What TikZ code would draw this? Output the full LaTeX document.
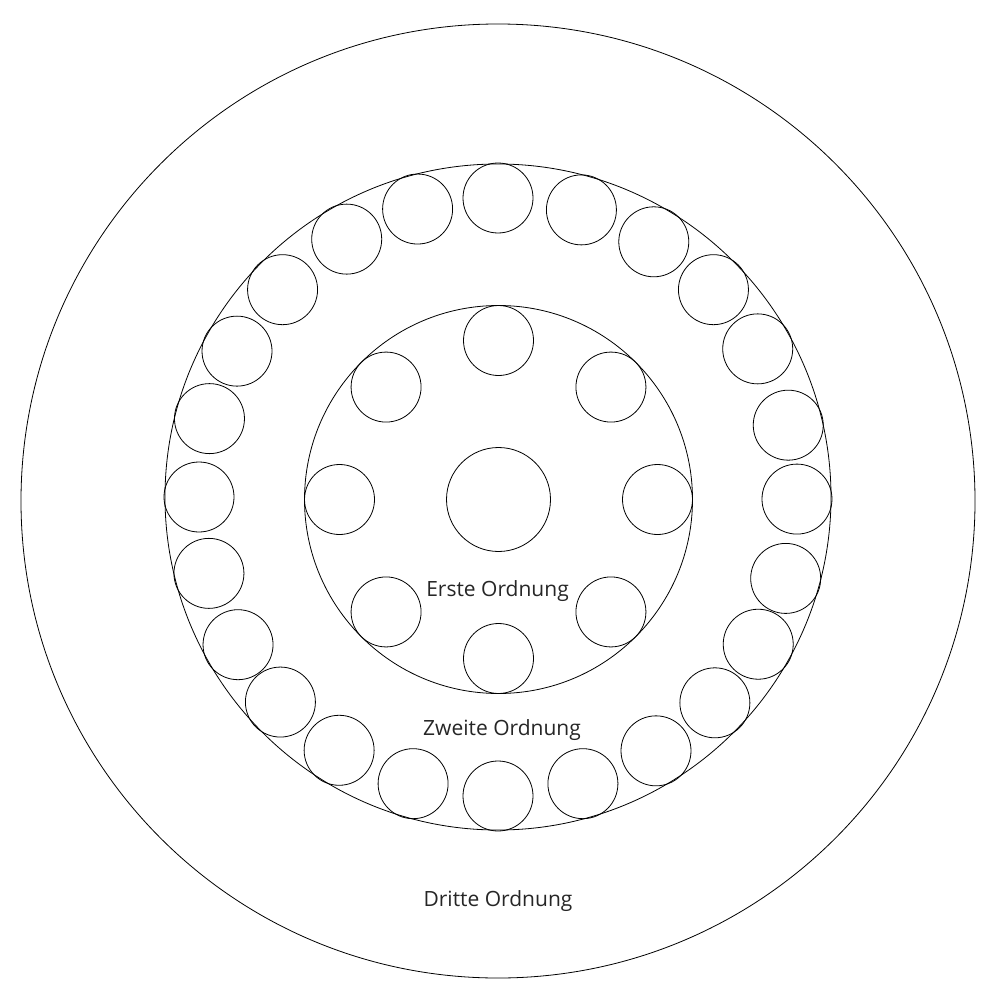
\documentclass[tikz,border=0pt]{standalone}
\usepackage{fontspec}
\setmainfont{Open Sans}
\usetikzlibrary{positioning,calc}
\tikzset{kreis/.style={draw,circle,inner sep=0pt,outer sep=0pt,line width=0.6pt}}
\tikzset{klein/.style={kreis,minimum size=52.5pt}}
\tikzset{beschriftung/.style={anchor=base,inner sep=0pt,text=black!85,font=\fontsize{15.75}{19}\selectfont}}

\begin{document}
\begin{tikzpicture}[x=0.75pt,y=-0.75pt]
            \useasboundingbox (0,0) rectangle (997,1002);
            \node[kreis, minimum size=715.5pt] (aussen) at (498,501) {};
            \node[kreis, minimum size=499.5pt] (mitte) at (498,497) {};
            \node[kreis, minimum size=291pt]   (innen) at (498.5,499.5) {};
            \node[kreis, minimum size=78pt]    (kern)  at (498.5,499.5) {};

            % erste Ordnung
            \foreach \i in {1,...,8}
                \node[klein] (e\i) at ($(innen)+({-90+45*(\i-1)}:159)$) {};
            % zweite Ordnung, nicht ganz gleichmaessig verteilt
            \foreach \w [count=\i] in {0,16.2,31.4,46.1,60.3,76.1,90.4,105.8,119.5,133.5,148.1,163.5,
                                       180,196.5,212.1,226.7,240.4,255.2,270,285.2,299.2,313.9,329.6,344.4}
                \node[klein] (z\i) at ($(mitte)+({-90+\w}:299)$) {};

            \node[beschriftung] (erste)  at (497.5,596) {Erste Ordnung};
            \node[beschriftung] (zweite) at (502,735)   {Zweite Ordnung};
            \node[beschriftung] (dritte) at (498,906)   {Dritte Ordnung};
        \end{tikzpicture}
\end{document}
